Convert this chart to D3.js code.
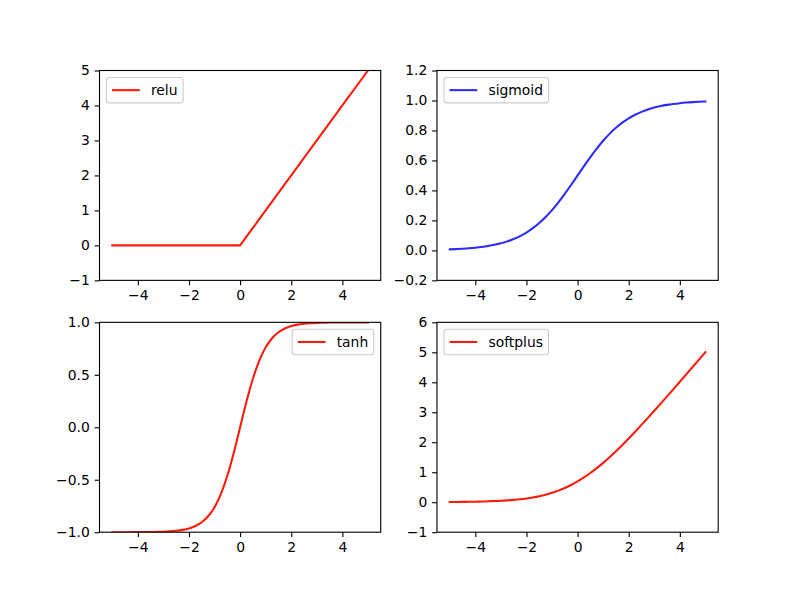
<!DOCTYPE html>
<html>
<head>
<meta charset="utf-8">
<script src="https://d3js.org/d3.v7.min.js"></script>
<style>
  html, body { margin: 0; padding: 0; background: #fff; }
  svg { display: block; }
  text { font-family: "DejaVu Sans", sans-serif; }
</style>
</head>
<body>
<svg id="chart" width="798" height="598"></svg>
<script>
// ---- data ----
const xs = [-5,-4.75,-4.5,-4.25,-4,-3.75,-3.5,-3.25,-3,-2.75,-2.5,-2.25,-2,-1.75,-1.5,-1.25,-1,-0.75,-0.5,-0.25,0,
            0.25,0.5,0.75,1,1.25,1.5,1.75,2,2.25,2.5,2.75,3,3.25,3.5,3.75,4,4.25,4.5,4.75,5];
const reluVals = [0,0,0,0,0,0,0,0,0,0,0,0,0,0,0,0,0,0,0,0,0,
                  0.25,0.5,0.75,1,1.25,1.5,1.75,2,2.25,2.5,2.75,3,3.25,3.5,3.75,4,4.25,4.5,4.75,5];
const sigmoidVals = [0.0067,0.0086,0.0110,0.0140,0.0180,0.0230,0.0293,0.0373,0.0474,0.0601,0.0759,0.0953,0.1192,0.1480,0.1824,0.2227,0.2689,0.3208,0.3775,0.4378,0.5,
                     0.5622,0.6225,0.6792,0.7311,0.7773,0.8176,0.8520,0.8808,0.9047,0.9241,0.9399,0.9526,0.9627,0.9707,0.9770,0.9820,0.9860,0.9890,0.9914,0.9933];
const tanhVals = [-0.9999,-0.9998,-0.9998,-0.9996,-0.9993,-0.9989,-0.9982,-0.9970,-0.9951,-0.9918,-0.9866,-0.9780,-0.9640,-0.9414,-0.9051,-0.8483,-0.7616,-0.6351,-0.4621,-0.2449,0,
                  0.2449,0.4621,0.6351,0.7616,0.8483,0.9051,0.9414,0.9640,0.9780,0.9866,0.9918,0.9951,0.9970,0.9982,0.9989,0.9993,0.9996,0.9998,0.9998,0.9999];
const softplusVals = [0.0067,0.0086,0.0110,0.0141,0.0181,0.0232,0.0298,0.0380,0.0486,0.0620,0.0789,0.1002,0.1269,0.1602,0.2014,0.2519,0.3133,0.3868,0.4741,0.5759,0.6931,
                      0.8259,0.9741,1.1368,1.3133,1.5019,1.7014,1.9102,2.1269,2.3502,2.5789,2.8120,3.0486,3.2880,3.5298,3.7732,4.0181,4.2641,4.5110,4.7586,5.0067];

const xTicks = [-4,-2,0,2,4];
const reluTicks = [-1,0,1,2,3,4,5];
const sigmoidTicks = [-0.2,0,0.2,0.4,0.6,0.8,1.0,1.2];
const tanhTicks = [-1,-0.5,0,0.5,1];
const softplusTicks = [-1,0,1,2,3,4,5,6];

const panels = [
  {name:"relu", vals:reluVals, yDomain:[-1,5], yTicks:reluTicks, fmt:d3.format("d"), color:"#ff1a0a", col:0, row:0, legend:"left", curve:d3.curveLinear},
  {name:"sigmoid", vals:sigmoidVals, yDomain:[-0.2,1.2], yTicks:sigmoidTicks, fmt:d3.format(".1f"), color:"#2b2bff", col:1, row:0, legend:"left", curve:d3.curveMonotoneX},
  {name:"tanh", vals:tanhVals, yDomain:[-1,1], yTicks:tanhTicks, fmt:d3.format(".1f"), color:"#ff1a0a", col:0, row:1, legend:"right", curve:d3.curveMonotoneX},
  {name:"softplus", vals:softplusVals, yDomain:[-1,6], yTicks:softplusTicks, fmt:d3.format("d"), color:"#ff1a0a", col:1, row:1, legend:"left", curve:d3.curveMonotoneX}
];

// ---- layout ----
const W = 798, H = 598;
const figL = 99.5, figR = 718.2, figT = 70.5, figB = 532.2;
const aw = (figR-figL)/2.2, ah = (figB-figT)/2.2;
const fs = 13.9, tickLen = 4.86, pad = 4.86;
const minus = s => s.replace("-", "\u2212");

const svg = d3.select("#chart");

panels.forEach((p, i) => {
  const x0 = figL + p.col*(aw*1.2);
  const y0 = figT + p.row*(ah*1.2);
  const xs_ = d3.scaleLinear().domain([-5.5,5.5]).range([x0, x0+aw]);
  const ys_ = d3.scaleLinear().domain(p.yDomain).range([y0+ah, y0]);
  const g = svg.append("g");

  g.append("clipPath").attr("id","clip"+i)
    .append("rect").attr("x",x0).attr("y",y0).attr("width",aw).attr("height",ah);

  const line = d3.line().x((d,j)=>xs_(xs[j])).y(d=>ys_(d)).curve(p.curve);
  g.append("path").datum(p.vals)
    .attr("clip-path","url(#clip"+i+")")
    .attr("d", line).attr("fill","none").attr("stroke",p.color)
    .attr("stroke-width",2.08).attr("stroke-linejoin","round").attr("stroke-linecap","square");

  // axes
  const xAxis = d3.axisBottom(xs_).tickValues(xTicks).tickSize(tickLen).tickPadding(pad)
      .tickFormat(d => minus(d3.format("d")(d)));
  const gx = g.append("g").attr("transform",`translate(0,${y0+ah})`).call(xAxis);
  const yAxis = d3.axisLeft(ys_).tickValues(p.yTicks).tickSize(tickLen).tickPadding(pad)
      .tickFormat(d => minus(p.fmt(d)));
  const gy = g.append("g").attr("transform",`translate(${x0},0)`).call(yAxis);
  [gx, gy].forEach(a => {
    a.select(".domain").remove();
    a.selectAll(".tick line").attr("stroke","#000").attr("stroke-width",1.11);
    a.selectAll(".tick text").attr("fill","#000").style("font-size",fs+"px")
      .style("font-family","'DejaVu Sans', sans-serif");
  });

  // spines
  g.append("rect").attr("x",x0).attr("y",y0).attr("width",aw).attr("height",ah)
    .attr("fill","none").attr("stroke","#000").attr("stroke-width",1.11);

  // legend
  const bp = 0.4*fs, hl = 2.0*fs, htp = 0.8*fs, bap = 0.5*fs;
  const tmp = g.append("text").style("font-size",fs+"px").text(p.name);
  const tw = tmp.node().getComputedTextLength();
  tmp.remove();
  const lw = bp + hl + htp + tw + bp;
  const lh = 25.4;
  const lx = p.legend === "left" ? x0 + bap : x0 + aw - bap - lw;
  const ly = y0 + bap;
  const lg = g.append("g");
  lg.append("rect").attr("x",lx).attr("y",ly).attr("width",lw).attr("height",lh)
    .attr("rx",2.8).attr("ry",2.8)
    .attr("fill","rgba(255,255,255,0.8)").attr("stroke","#cccccc").attr("stroke-width",1.11);
  const cy = ly + lh/2;
  lg.append("line").attr("x1",lx+bp).attr("x2",lx+bp+hl).attr("y1",cy).attr("y2",cy)
    .attr("stroke",p.color).attr("stroke-width",2.08);
  lg.append("text").attr("x",lx+bp+hl+htp).attr("y",cy).attr("dy","0.35em")
    .style("font-size",fs+"px").attr("fill","#000").text(p.name);
});
</script>
</body>
</html>
